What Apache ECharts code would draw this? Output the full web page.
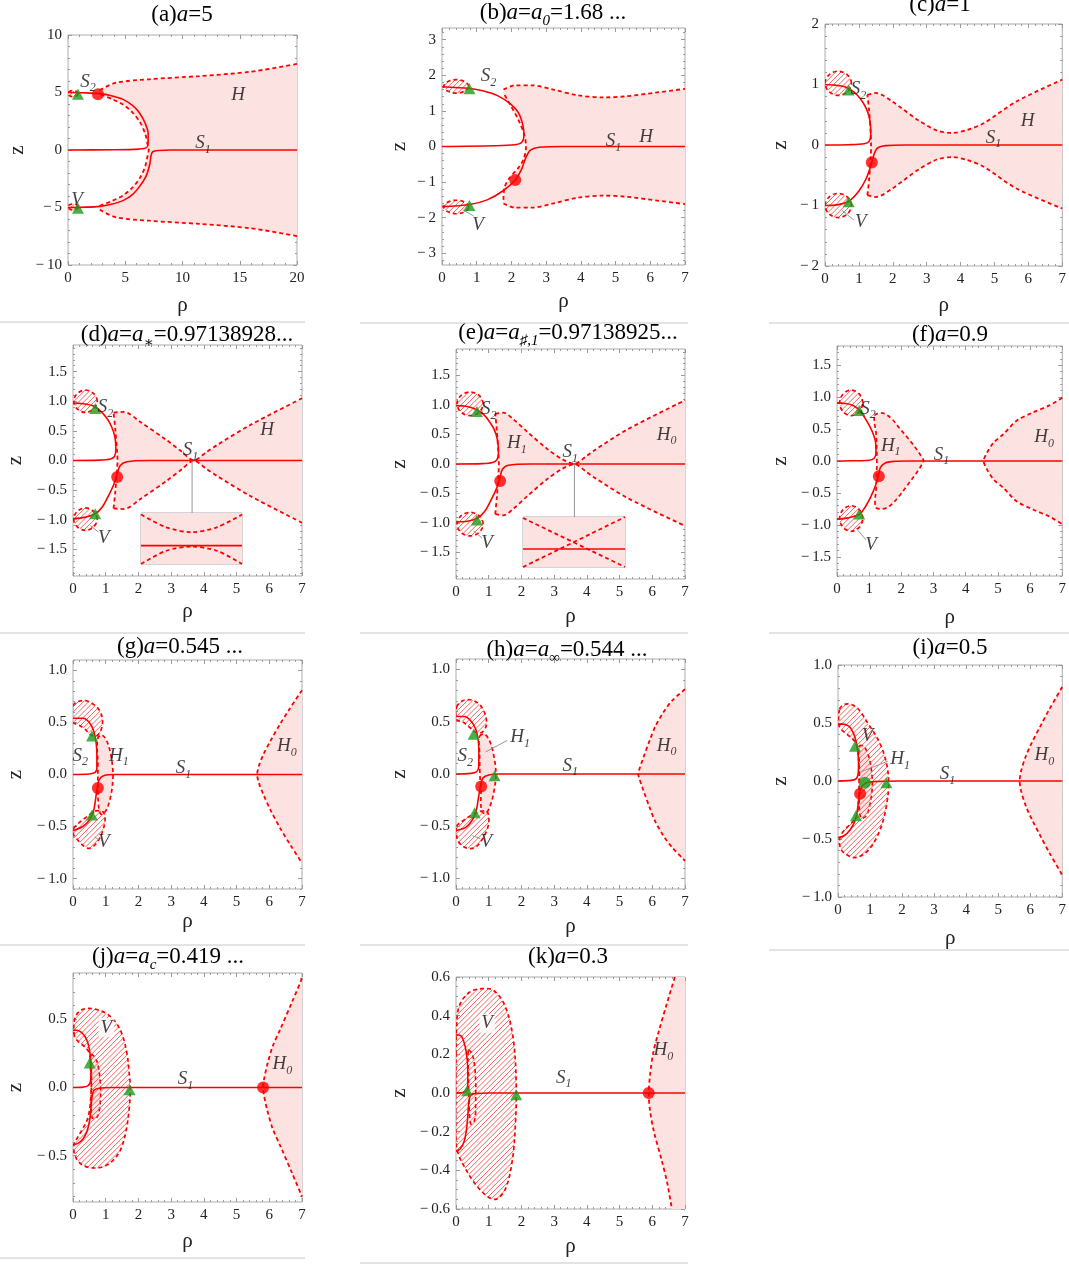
<!DOCTYPE html>
<html>
<head>
<meta charset="utf-8">
<script src="https://cdn.jsdelivr.net/npm/echarts@6/dist/echarts.min.js"></script>
<style>
html, body { margin: 0; padding: 0; background: #fff; }
#chart { width: 1069px; height: 1266px; }
</style>
</head>
<body>
<div id="chart"></div>
<script>
// ---- axes ----
const xTicks7 = [0, 1, 2, 3, 4, 5, 6, 7]
const aXTicks = [0, 5, 10, 15, 20]
const aYTicks = [-10, -5, 0, 5, 10]
const bYTicks = [-3, -2, -1, 0, 1, 2, 3]
const cYTicks = [-2, -1, 0, 1, 2]
const dYTicks = [-1.5, -1, -0.5, 0, 0.5, 1, 1.5]
const gYTicks = [-1, -0.5, 0, 0.5, 1]
const jYTicks = [-0.5, 0, 0.5]
const kYTicks = [-0.6, -0.4, -0.2, 0, 0.2, 0.4, 0.6]

// ---- (a) a=5 ----
const aUpper = [[0,0],[4,0.02],[6.2,0.08],[6.85,0.2],[7.0,0.6],[7.0,1.45],[6.75,2.3],[6.26,3.2],[5.68,3.83],[4.8,4.4],[3.78,4.72],[2.77,4.9],[1.6,4.97],[0,5]]
const aLower = [[0,-5],[1.6,-4.97],[2.77,-4.9],[3.78,-4.72],[4.8,-4.4],[5.68,-3.83],[6.3,-3.1],[6.85,-2.2],[7.15,-1.2],[7.25,-0.5],[7.4,-0.15],[7.9,-0.04],[9,0],[20,0]]
const aHTop = [[2.77,5.2],[4.2,5.85],[7.1,6.15],[11.5,6.43],[15.9,6.8],[20,7.48]]
const aHBot = [[2.77,-5.2],[4.2,-5.85],[7.1,-6.15],[11.5,-6.43],[15.9,-6.8],[20,-7.48]]
const aHLeft = [[2.77,-4.85],[3.8,-4.45],[4.8,-3.95],[5.6,-3.3],[6.3,-2.4],[6.75,-1.4],[6.95,-0.5],[7.05,0],[6.95,0.5],[6.75,1.4],[6.3,2.4],[5.6,3.3],[4.8,3.95],[3.8,4.45],[2.77,4.85]]
const aVUp = [[0.88,4.9],[0.75,5.08],[0.44,5.16],[0.13,5.08],[0,4.9],[0.13,4.72],[0.44,4.64],[0.75,4.72]]
const aVLow = [[0.88,-4.95],[0.75,-4.77],[0.44,-4.69],[0.13,-4.77],[0,-4.95],[0.13,-5.13],[0.44,-5.21],[0.75,-5.13]]
const aTri = [[0.87,4.84],[0.87,-5.07]]
const aDot = [[2.62,4.85]]
const aLabels = [[1.75,5.95,'S_2'],[14.85,4.8,'H'],[11.8,0.6,'S_1'],[0.8,-4.35,'V']]

// ---- (b) a=a0 ----
const bUpper = [[0,0],[1.5,0.02],[2.1,0.05],[2.3,0.12],[2.36,0.3],[2.33,0.6],[2.2,0.95],[1.97,1.2],[1.6,1.43],[1.2,1.56],[0.8,1.63],[0,1.68]]
const bLower = [[0,-1.69],[0.8,-1.63],[1.3,-1.5],[1.75,-1.25],[2.11,-0.94],[2.3,-0.62],[2.42,-0.3],[2.55,-0.1],[2.8,-0.02],[3.5,0],[7,0]]
const bHTop = [[1.77,1.6],[2.1,1.72],[2.6,1.72],[3.2,1.6],[3.9,1.44],[4.65,1.38],[5.3,1.41],[6.2,1.52],[7,1.62]]
const bHBot = [[1.77,-1.6],[2.1,-1.72],[2.6,-1.72],[3.2,-1.6],[3.9,-1.44],[4.65,-1.38],[5.3,-1.41],[6.2,-1.52],[7,-1.62]]
const bHLeft = [[1.77,-1.5],[1.8,-1.15],[1.95,-0.88],[2.2,-0.6],[2.36,-0.33],[2.42,0],[2.37,0.33],[2.2,0.75],[1.95,1.2],[1.77,1.5]]
const bVUp = [[0.77,1.69],[0.66,1.82],[0.41,1.88],[0.16,1.82],[0.05,1.69],[0.16,1.56],[0.41,1.5],[0.66,1.56]]
const bVLow = [[0.77,-1.7],[0.66,-1.57],[0.41,-1.51],[0.16,-1.57],[0.05,-1.7],[0.16,-1.83],[0.41,-1.89],[0.66,-1.83]]
const bTri = [[0.79,1.62],[0.79,-1.66]]
const bDot = [[2.11,-0.94]]
const bLabels = [[1.34,1.97,'S_2'],[4.94,0.15,'S_1'],[5.88,0.28,'H'],[1.04,-2.2,'V']]
const bLeaders = [[[0.91,-1.95],[0.6,-1.78]]]

// ---- (c) a=1 ----
const cUpper = [[0,0],[0.7,0.005],[1.15,0.02],[1.3,0.06],[1.35,0.2],[1.32,0.42],[1.22,0.6],[1.05,0.76],[0.85,0.88],[0.6,0.96],[0.3,0.99],[0,1]]
const cLower = [[0,-1],[0.35,-0.99],[0.7,-0.93],[1.0,-0.76],[1.22,-0.55],[1.36,-0.33],[1.45,-0.15],[1.55,-0.05],[1.8,-0.01],[2.4,0],[7,0]]
const cHTop = [[1.25,0.83],[1.5,0.86],[1.98,0.72],[2.75,0.41],[3.3,0.24],[3.75,0.2],[4.2,0.25],[4.68,0.36],[5.65,0.72],[7,1.08]]
const cHBot = [[1.25,-0.83],[1.5,-0.86],[1.98,-0.72],[2.75,-0.41],[3.3,-0.24],[3.75,-0.2],[4.2,-0.25],[4.68,-0.36],[5.65,-0.72],[7,-1.05]]
const cHLeft = [[1.25,-0.83],[1.3,-0.58],[1.35,-0.19],[1.36,0],[1.35,0.19],[1.3,0.58],[1.25,0.83]]
const cVUp = [[0.78,1.02],[0.66,1.16],[0.39,1.22],[0.12,1.16],[0,1.02],[0.12,0.88],[0.39,0.82],[0.66,0.88]]
const cVLow = [[0.78,-1.0],[0.66,-0.86],[0.39,-0.8],[0.12,-0.86],[0,-1.0],[0.12,-1.14],[0.39,-1.2],[0.66,-1.14]]
const cTri = [[0.7,0.91],[0.7,-0.94]]
const cDot = [[1.38,-0.29]]
const cLabels = [[0.99,0.92,'S_2'],[5.98,0.39,'H'],[4.97,0.12,'S_1'],[1.06,-1.27,'V']]
const cLeaders = [[[0.85,-1.24],[0.5,-1.08]]]

// ---- (d) a=a* ----
const dUpper = [[0,0],[0.8,0.006],[1.15,0.025],[1.27,0.07],[1.31,0.2],[1.28,0.4],[1.18,0.57],[1.04,0.71],[0.85,0.83],[0.63,0.92],[0.3,0.96],[0,0.97]]
const dLower = [[0,-0.98],[0.35,-0.96],[0.68,-0.9],[0.9,-0.78],[1.08,-0.6],[1.25,-0.4],[1.35,-0.22],[1.45,-0.08],[1.65,-0.02],[2.3,0],[7,0]]
const dHTop = [[1.24,0.81],[1.55,0.82],[2.06,0.65],[2.87,0.34],[3.3,0.16],[3.69,0.005],[4.1,0.15],[4.4,0.26],[5.42,0.6],[7,1.05]]
const dHBot = [[1.24,-0.81],[1.55,-0.82],[2.06,-0.65],[2.87,-0.34],[3.3,-0.16],[3.69,-0.005],[4.1,-0.15],[4.4,-0.26],[5.42,-0.6],[7,-1.05]]
const dHLeft = [[1.24,-0.81],[1.29,-0.54],[1.35,-0.14],[1.36,0],[1.35,0.14],[1.29,0.54],[1.24,0.81]]
const dVUp = [[0.74,1.0],[0.63,1.13],[0.38,1.19],[0.13,1.13],[0.02,1.0],[0.13,0.87],[0.38,0.81],[0.63,0.87]]
const dVLow = [[0.74,-0.99],[0.63,-0.86],[0.38,-0.8],[0.13,-0.86],[0.02,-0.99],[0.13,-1.12],[0.38,-1.18],[0.63,-1.12]]
const dTri = [[0.68,0.88],[0.68,-0.9]]
const dDot = [[1.35,-0.28]]
const dLabels = [[0.99,0.9,'S_2'],[5.93,0.51,'H'],[3.59,0.17,'S_1'],[0.94,-1.3,'V']]
const dLeaders = [[[0.78,-1.21],[0.53,-1.1]],[[3.64,0],[3.64,-0.886]]]
const dInsUp = [[0,0.97],[0.25,0.72],[0.5,0.625],[0.75,0.72],[1,0.97]]
const dInsLow = [[0,0],[0.25,0.26],[0.5,0.34],[0.75,0.26],[1,0]]
const dInsS1 = [[0,0.36],[1,0.36]]

// ---- (e) a=a#,1 ----
const eUpper = [[0,0],[0.8,0.006],[1.12,0.025],[1.25,0.07],[1.3,0.2],[1.27,0.4],[1.18,0.57],[1.02,0.72],[0.84,0.84],[0.6,0.93],[0.3,0.98],[0,0.99]]
const eLower = [[0,-0.98],[0.35,-0.97],[0.64,-0.92],[0.88,-0.8],[1.08,-0.6],[1.25,-0.4],[1.34,-0.24],[1.42,-0.09],[1.6,-0.02],[2.3,0],[7,0]]
const eHTop = [[1.2,0.85],[1.45,0.87],[1.75,0.76],[2.17,0.55],[2.78,0.26],[3.25,0.08],[3.62,0.005],[4.0,0.14],[4.2,0.22],[5.22,0.58],[7,1.08]]
const eHBot = [[1.2,-0.85],[1.45,-0.87],[1.75,-0.76],[2.17,-0.55],[2.78,-0.26],[3.25,-0.08],[3.62,-0.005],[4.0,-0.14],[4.2,-0.22],[5.22,-0.57],[7,-1.05]]
const eHLeft = [[1.2,-0.85],[1.25,-0.55],[1.3,-0.15],[1.31,0],[1.3,0.15],[1.25,0.55],[1.2,0.85]]
const eVUp = [[0.83,1.02],[0.71,1.16],[0.43,1.22],[0.15,1.16],[0.03,1.02],[0.15,0.88],[0.43,0.82],[0.71,0.88]]
const eVLow = [[0.83,-1.02],[0.71,-0.88],[0.43,-0.82],[0.15,-0.88],[0.03,-1.02],[0.15,-1.16],[0.43,-1.22],[0.71,-1.16]]
const eTri = [[0.64,0.89],[0.64,-0.95]]
const eDot = [[1.35,-0.29]]
const eLabels = [[1.0,0.93,'S_2'],[1.86,0.35,'H_1'],[3.49,0.2,'S_1'],[6.44,0.5,'H_0'],[0.95,-1.34,'V']]
const eLeaders = [[[0.79,-1.25],[0.54,-1.14]],[[3.62,0],[3.62,-0.899]]]
const eInsA = [[0,0.98],[1,0]]
const eInsB = [[0,0],[1,1]]
const eInsS1 = [[0,0.36],[1,0.36]]

// ---- (f) a=0.9 ----
const fUpper = [[0,0],[0.5,0.003],[1.0,0.012],[1.15,0.04],[1.21,0.12],[1.2,0.29],[1.12,0.43],[1.01,0.55],[0.86,0.68],[0.71,0.79],[0.5,0.87],[0.25,0.9],[0,0.91]]
const fLower = [[0,-0.91],[0.35,-0.89],[0.71,-0.83],[0.9,-0.7],[1.06,-0.55],[1.2,-0.38],[1.28,-0.24],[1.35,-0.1],[1.5,-0.03],[1.8,-0.005],[2.2,0],[7,0]]
const fH1 = [[1.17,0.71],[1.42,0.75],[1.7,0.66],[1.93,0.52],[2.2,0.36],[2.45,0.2],[2.62,0.07],[2.69,0],[2.62,-0.07],[2.45,-0.2],[2.2,-0.37],[1.93,-0.55],[1.65,-0.7],[1.42,-0.75],[1.2,-0.72],[1.22,-0.4],[1.24,0],[1.22,0.4]]
const fH0 = [[7,0.99],[6.6,0.87],[6.09,0.76],[5.58,0.63],[5.17,0.42],[4.87,0.29],[4.66,0.13],[4.56,0],[4.66,-0.13],[4.87,-0.29],[5.17,-0.42],[5.58,-0.63],[6.09,-0.76],[6.6,-0.87],[7,-0.99]]
const fVUp = [[0.8,0.91],[0.69,1.05],[0.44,1.11],[0.19,1.05],[0.08,0.91],[0.19,0.77],[0.44,0.71],[0.69,0.77]]
const fVLow = [[0.8,-0.9],[0.69,-0.76],[0.44,-0.7],[0.19,-0.76],[0.08,-0.9],[0.19,-1.04],[0.44,-1.1],[0.69,-1.04]]
const fTri = [[0.69,0.79],[0.69,-0.83]]
const fDot = [[1.3,-0.24]]
const fLabels = [[0.96,0.82,'S_2'],[1.67,0.24,'H_1'],[3.25,0.1,'S_1'],[6.44,0.37,'H_0'],[1.06,-1.32,'V']]
const fLeaders = [[[0.91,-1.24],[0.56,-1.03]]]

// ---- (g) a=0.545 ----
const gUpper = [[0,0],[0.5,0.005],[0.68,0.02],[0.73,0.06],[0.73,0.18],[0.71,0.3],[0.63,0.42],[0.5,0.5],[0.3,0.54],[0,0.54]]
const gLower = [[0,-0.54],[0.3,-0.5],[0.5,-0.44],[0.62,-0.36],[0.68,-0.26],[0.73,-0.15],[0.8,-0.05],[0.95,-0.01],[1.3,0],[7,0]]
const gVUp = [[0,0.66],[0.15,0.7],[0.38,0.71],[0.6,0.68],[0.8,0.62],[0.9,0.53],[0.86,0.43],[0.72,0.37],[0.55,0.38],[0.35,0.44],[0.15,0.48],[0,0.5]]
const gVLow = [[0.02,-0.52],[0.2,-0.46],[0.45,-0.4],[0.7,-0.35],[0.92,-0.36],[0.98,-0.43],[0.9,-0.55],[0.72,-0.66],[0.5,-0.71],[0.3,-0.68],[0.12,-0.62],[0.02,-0.58]]
const gH1 = [[0.75,0.34],[0.88,0.38],[1.02,0.33],[1.15,0.2],[1.22,0.03],[1.2,-0.12],[1.12,-0.25],[1.0,-0.35],[0.85,-0.38],[0.78,-0.3],[0.76,-0.1],[0.76,0.1]]
const gH0 = [[7,0.81],[6.6,0.62],[6.34,0.49],[6.05,0.33],[5.83,0.2],[5.68,0.08],[5.63,0],[5.68,-0.08],[5.83,-0.2],[6.05,-0.35],[6.34,-0.52],[6.65,-0.68],[7,-0.85]]
const gTri = [[0.58,0.37],[0.58,-0.39]]
const gDot = [[0.76,-0.13]]
const gLabels = [[0.22,0.18,'S_2'],[1.4,0.18,'H_1'],[3.38,0.06,'S_1'],[6.54,0.27,'H_0'],[0.94,-0.65,'V']]
const gLeaders = [[[0.8,-0.63],[0.66,-0.6]]]

// ---- (h) a=a_inf ----
const hUpper = [[0,0],[0.45,0.006],[0.62,0.02],[0.69,0.06],[0.7,0.2],[0.68,0.32],[0.6,0.43],[0.45,0.51],[0.25,0.55],[0,0.55]]
const hLower = [[0,-0.54],[0.3,-0.51],[0.5,-0.44],[0.62,-0.35],[0.68,-0.24],[0.74,-0.13],[0.82,-0.04],[1.0,-0.01],[1.3,0],[7,0]]
const hVUp = [[0.02,0.64],[0.2,0.7],[0.44,0.71],[0.7,0.67],[0.88,0.58],[0.93,0.47],[0.8,0.4],[0.6,0.4],[0.4,0.45],[0.2,0.5],[0.02,0.52]]
const hVLow = [[0.02,-0.5],[0.2,-0.45],[0.44,-0.4],[0.7,-0.36],[0.95,-0.36],[1.0,-0.47],[0.85,-0.6],[0.6,-0.7],[0.35,-0.71],[0.13,-0.67],[0.02,-0.6]]
const hH1 = [[0.72,0.36],[0.88,0.38],[1.05,0.3],[1.17,0.15],[1.22,0],[1.17,-0.15],[1.05,-0.3],[0.9,-0.38],[0.78,-0.35],[0.76,-0.15],[0.73,0],[0.72,0.2]]
const hH0 = [[7,0.81],[6.6,0.7],[6.34,0.59],[6.1,0.46],[5.93,0.33],[5.72,0.15],[5.6,0.04],[5.57,0],[5.6,-0.04],[5.72,-0.15],[5.93,-0.33],[6.1,-0.46],[6.34,-0.59],[6.6,-0.7],[7,-0.83]]
const hTri = [[0.54,0.38],[0.57,-0.37],[1.18,-0.016]]
const hDot = [[0.77,-0.12]]
const hLabels = [[0.28,0.17,'S_2'],[1.96,0.35,'H_1'],[3.49,0.08,'S_1'],[6.44,0.27,'H_0'],[0.93,-0.65,'V']]
const hLeaders = [[[1.56,0.32],[0.9,0.21]],[[0.75,-0.62],[0.5,-0.59]]]

// ---- (i) a=0.5 ----
const iUpper = [[0,0],[0.4,0.005],[0.55,0.015],[0.62,0.05],[0.64,0.12],[0.63,0.22],[0.58,0.32],[0.5,0.4],[0.35,0.47],[0.15,0.49],[0,0.49]]
const iLower = [[0,-0.49],[0.2,-0.47],[0.38,-0.42],[0.52,-0.35],[0.6,-0.26],[0.65,-0.15],[0.72,-0.06],[0.85,-0.02],[1.1,-0.005],[1.9,0],[7,0]]
const iV = [[0.05,0.62],[0.2,0.66],[0.41,0.66],[0.6,0.63],[0.77,0.57],[0.95,0.49],[1.12,0.42],[1.3,0.33],[1.45,0.22],[1.55,0.1],[1.58,-0.05],[1.52,-0.2],[1.4,-0.35],[1.22,-0.48],[1.0,-0.58],[0.75,-0.64],[0.5,-0.66],[0.3,-0.64],[0.12,-0.6],[0.04,-0.52],[0.15,-0.44],[0.35,-0.38],[0.55,-0.32],[0.64,-0.2],[0.66,0],[0.64,0.2],[0.55,0.33],[0.38,0.38],[0.2,0.42],[0.04,0.47]]
const iH1 = [[0.66,0.3],[0.8,0.3],[0.95,0.22],[1.05,0.08],[1.07,-0.05],[1.0,-0.2],[0.88,-0.3],[0.72,-0.32],[0.66,-0.2],[0.67,0],[0.66,0.15]]
const iH0 = [[7,0.81],[6.6,0.62],[6.33,0.48],[6.05,0.33],[5.87,0.22],[5.72,0.09],[5.67,0],[5.72,-0.09],[5.87,-0.22],[6.05,-0.33],[6.33,-0.48],[6.6,-0.62],[7,-0.81]]
const iTri = [[0.53,0.3],[0.56,-0.3],[1.51,-0.015]]
const iDot = [[0.69,-0.11]]
const iGreenDot = [[0.84,-0.015]]
const iLabels = [[0.92,0.39,'V'],[1.94,0.19,'H_1'],[3.42,0.06,'S_1'],[6.44,0.22,'H_0']]
const iLeaders = [[[1.55,0.17],[0.72,0.08]]]

// ---- (j) a=a_c ----
const jUpper = [[0,0],[0.3,0.003],[0.45,0.012],[0.53,0.04],[0.55,0.1],[0.54,0.2],[0.5,0.28],[0.42,0.35],[0.28,0.4],[0.12,0.42],[0,0.42]]
const jLower = [[0,-0.42],[0.15,-0.41],[0.3,-0.38],[0.43,-0.32],[0.51,-0.24],[0.55,-0.15],[0.58,-0.07],[0.64,-0.02],[0.8,-0.005],[1.2,0],[7,0]]
const jV = [[0.04,0.38],[0.05,0.5],[0.2,0.56],[0.43,0.58],[0.75,0.57],[1.04,0.54],[1.3,0.48],[1.5,0.39],[1.65,0.25],[1.72,0.1],[1.75,0],[1.72,-0.15],[1.62,-0.32],[1.45,-0.46],[1.2,-0.54],[0.94,-0.58],[0.6,-0.59],[0.3,-0.57],[0.1,-0.52],[0.02,-0.43],[0.18,-0.35],[0.35,-0.28],[0.48,-0.2],[0.55,-0.05],[0.56,0.1],[0.5,0.25],[0.35,0.3],[0.15,0.34]]
const jH1 = [[0.55,0.24],[0.72,0.2],[0.83,0.05],[0.83,-0.12],[0.73,-0.22],[0.58,-0.22],[0.56,0]]
const jH0 = [[7,0.8],[6.7,0.63],[6.34,0.43],[6.1,0.3],[5.93,0.16],[5.84,0.06],[5.81,0],[5.84,-0.06],[5.93,-0.16],[6.1,-0.3],[6.34,-0.43],[6.7,-0.63],[7,-0.8]]
const jTri = [[0.51,0.18],[1.73,-0.017]]
const jDot = [[5.81,0]]
const jLabels = [[1.02,0.44,'V',1],[3.44,0.06,'S_1'],[6.4,0.17,'H_0']]

// ---- (k) a=0.3 ----
const kUpper = [[0,0],[0.2,0.002],[0.32,0.01],[0.36,0.04],[0.36,0.11],[0.33,0.19],[0.28,0.24],[0.18,0.29],[0.08,0.3],[0,0.3]]
const kLower = [[0,-0.3],[0.13,-0.29],[0.25,-0.25],[0.32,-0.19],[0.36,-0.12],[0.39,-0.05],[0.45,-0.01],[0.6,-0.003],[1,0],[7,0]]
const kV = [[0,0.2],[0.02,0.35],[0.1,0.45],[0.4,0.52],[0.8,0.54],[1.15,0.53],[1.5,0.45],[1.75,0.28],[1.84,0.05],[1.82,-0.15],[1.72,-0.35],[1.5,-0.5],[1.2,-0.55],[0.85,-0.52],[0.5,-0.45],[0.25,-0.38],[0.08,-0.32],[0,-0.25]]
const kInner = [[0.38,0.22],[0.5,0.2],[0.59,0.1],[0.6,-0.05],[0.57,-0.14],[0.45,-0.16],[0.4,-0.05],[0.38,0.1]]
const kH0 = [[6.69,0.6],[6.44,0.46],[6.2,0.32],[6.03,0.21],[5.93,0.09],[5.89,0],[5.93,-0.09],[6.05,-0.2],[6.29,-0.35],[6.45,-0.46],[6.6,-0.6]]
const kTri = [[0.34,0.012],[1.84,-0.009]]
const kDot = [[5.89,0]]
const kLabels = [[0.95,0.36,'V',1],[3.29,0.08,'S_1'],[6.34,0.22,'H_0']]

// ---- titles ----
const titles = [
  [['n','(a)'],['i','a'],['n','=5']],
  [['n','(b)'],['i','a'],['n','='],['i','a'],['s','0'],['n','=1.68 ...']],
  [['n','(c)'],['i','a'],['n','=1']],
  [['n','(d)'],['i','a'],['n','='],['i','a'],['s','\u2217'],['n','=0.97138928...']],
  [['n','(e)'],['i','a'],['n','='],['i','a'],['s','\u266F,1'],['n','=0.97138925...']],
  [['n','(f)'],['i','a'],['n','=0.9']],
  [['n','(g)'],['i','a'],['n','=0.545 ...']],
  [['n','(h)'],['i','a'],['n','='],['i','a'],['s','\u221E'],['n','=0.544 ...']],
  [['n','(i)'],['i','a'],['n','=0.5']],
  [['n','(j)'],['i','a'],['n','='],['i','a'],['s','c'],['n','=0.419 ...']],
  [['n','(k)'],['i','a'],['n','=0.3']]
]

const RED = '#ff0000'
const PINK = '#fde2e2'
const GREEN = '#1a9c1a'
const FRAME = '#ababab'
const TICK = '#9a9a9a'
const GRAYLINE = '#8a8a8a'
const HATCHRED = '#f04848'
const SERIF = '"Liberation Serif", "DejaVu Serif", serif'

const rev = (a) => a.slice().reverse()
const aHFill = aHTop.concat(rev(aHBot), aHLeft)
const bHFill = bHTop.concat(rev(bHBot), bHLeft)
const cHFill = cHTop.concat(rev(cHBot), cHLeft)
const dHFill = dHTop.concat(rev(dHBot), dHLeft)
const eHFill = eHTop.concat(rev(eHBot), eHLeft)
const kH0Fill = kH0.concat([[7,-0.6],[7,0.6]])

const panels = [
  { grid: [68,35,229,230], xMax: 20, yLim: 10, xTicks: aXTicks, yTicks: aYTicks, xMinor: 1, yMinor: 1, dec: 0, zGap: 40, rGap: 30,
    solid: [aUpper, aLower], dashed: [aHTop, aHBot, aHLeft], pink: [aHFill], pinkClosed: [], hatch: [aVUp, aVLow], outline: [],
    tri: aTri, dot: aDot, gdot: [], labels: aLabels, leaders: [] },
  { grid: [442,28,243,237], xMax: 7, yLim: 3.33, xTicks: xTicks7, yTicks: bYTicks, xMinor: 0.2, yMinor: 0.2, dec: 0, zGap: 32, rGap: 26,
    solid: [bUpper, bLower], dashed: [bHTop, bHBot, bHLeft], pink: [bHFill], pinkClosed: [], hatch: [bVUp, bVLow], outline: [],
    tri: bTri, dot: bDot, gdot: [], labels: bLabels, leaders: bLeaders },
  { grid: [825,24,242,242], xMax: 7, yLim: 2, xTicks: xTicks7, yTicks: cYTicks, xMinor: 0.2, yMinor: 0.2, dec: 0, zGap: 34, rGap: 29,
    solid: [cUpper, cLower], dashed: [cHTop, cHBot, cHLeft], pink: [cHFill], pinkClosed: [], hatch: [cVUp, cVLow], outline: [],
    tri: cTri, dot: cDot, gdot: [], labels: cLabels, leaders: cLeaders },
  { grid: [73,345,229,231], xMax: 7, yLim: 1.95, xTicks: xTicks7, yTicks: dYTicks, xMinor: 0.2, yMinor: 0.1, dec: 1, zGap: 47, rGap: 25,
    solid: [dUpper, dLower], dashed: [dHTop, dHBot, dHLeft], pink: [dHFill], pinkClosed: [], hatch: [dVUp, dVLow], outline: [],
    tri: dTri, dot: dDot, gdot: [], labels: dLabels, leaders: dLeaders },
  { grid: [456,349,229,230], xMax: 7, yLim: 1.95, xTicks: xTicks7, yTicks: dYTicks, xMinor: 0.2, yMinor: 0.1, dec: 1, zGap: 46, rGap: 27,
    solid: [eUpper, eLower], dashed: [eHTop, eHBot, eHLeft], pink: [eHFill], pinkClosed: [], hatch: [eVUp, eVLow], outline: [],
    tri: eTri, dot: eDot, gdot: [], labels: eLabels, leaders: eLeaders },
  { grid: [837,346,230,230], xMax: 7, yLim: 1.8, xTicks: xTicks7, yTicks: dYTicks, xMinor: 0.2, yMinor: 0.1, dec: 1, zGap: 46, rGap: 31,
    solid: [fUpper, fLower], dashed: [fH0], pink: [fH0], pinkClosed: [fH1], hatch: [fVUp, fVLow], outline: [],
    tri: fTri, dot: fDot, gdot: [], labels: fLabels, leaders: fLeaders },
  { grid: [73,660,229,229], xMax: 7, yLim: 1.1, xTicks: xTicks7, yTicks: gYTicks, xMinor: 0.2, yMinor: 0.1, dec: 1, zGap: 47, rGap: 18,
    solid: [gUpper, gLower], dashed: [gH0], pink: [gH0], pinkClosed: [gH1], hatch: [gVUp, gVLow], outline: [],
    tri: gTri, dot: gDot, gdot: [], labels: gLabels, leaders: gLeaders },
  { grid: [456,659,229,230], xMax: 7, yLim: 1.1, xTicks: xTicks7, yTicks: gYTicks, xMinor: 0.2, yMinor: 0.1, dec: 1, zGap: 46, rGap: 27,
    solid: [hUpper, hLower], dashed: [hH0], pink: [hH0], pinkClosed: [hH1], hatch: [hVUp, hVLow], outline: [],
    tri: hTri, dot: hDot, gdot: [], labels: hLabels, leaders: hLeaders },
  { grid: [838,665,229,232], xMax: 7, yLim: 1, xTicks: xTicks7, yTicks: gYTicks, xMinor: 0.2, yMinor: 0.1, dec: 1, zGap: 47, rGap: 31,
    solid: [iUpper, iLower], dashed: [iH0], pink: [iH0], pinkClosed: [iH1], hatch: [iV], outline: [],
    tri: iTri, dot: iDot, gdot: iGreenDot, labels: iLabels, leaders: iLeaders },
  { grid: [73,973,229,229], xMax: 7, yLim: 0.84, xTicks: xTicks7, yTicks: jYTicks, xMinor: 0.2, yMinor: 0.1, dec: 1, zGap: 47, rGap: 29,
    solid: [jUpper, jLower], dashed: [jH0], pink: [jH0], pinkClosed: [jH1], hatch: [jV], outline: [],
    tri: jTri, dot: jDot, gdot: [], labels: jLabels, leaders: [] },
  { grid: [456,977,229,232], xMax: 7, yLim: 0.6, xTicks: xTicks7, yTicks: kYTicks, xMinor: 0.2, yMinor: 0.05, dec: 1, zGap: 46, rGap: 27,
    solid: [kUpper, kLower], dashed: [kH0], pink: [kH0Fill], pinkClosed: [], hatch: [kV], outline: [kInner],
    tri: kTri, dot: kDot, gdot: [], labels: kLabels, leaders: [] }
]

const titlePos = [[182,15],[553,13],[940,5],[187,335],[568,333],[950,335],[180,647],[567,650],[950,648],[168,957],[568,957]]
const sepLines = [[0,305,322],[360,688,323],[769,1069,323],[0,305,633],[360,688,633],[769,1069,633],[0,305,945],[360,688,945],[769,1069,950],[0,305,1258],[360,688,1263]]

const RICH_LBL = richStyles(19)
const RICH_TTL = richStyles(23)

function richStyles(sz) {
  const sub = Math.round(sz * 0.64)
  return {
    n: { fontFamily: SERIF, fontSize: sz, color: '#111', lineHeight: sz, verticalAlign: 'top' },
    i: { fontFamily: SERIF, fontStyle: 'italic', fontSize: sz, color: '#111', lineHeight: sz, verticalAlign: 'top' },
    s: { fontFamily: SERIF, fontStyle: 'italic', fontSize: sub, color: '#111', lineHeight: sub, padding: [Math.round(sz * 0.5), 0, 0, 0], verticalAlign: 'top' }
  }
}

function toRich(t) {
  const parts = t.split('_')
  return '{i|' + parts[0] + '}' + (parts[1] ? '{s|' + parts[1] + '}' : '')
}

// Mathematica style minus sign, a little wider
function fmt(v, dec) {
  return v.toFixed(dec).replace('-', '\u2212\u2009')
}

function steps(lo, hi, st) {
  const out = []
  for (let k = Math.ceil(lo / st - 1e-9); k * st <= hi + 1e-9; k++) out.push(+(k * st).toFixed(4))
  return out
}

const grids = []
const xAxes = []
const yAxes = []
const series = []

function tick(vals, len) {
  return { show: true, inside: true, length: len, customValues: vals, lineStyle: { color: TICK, width: 1 } }
}

function buildAxes(p, gi) {
  const base = { gridIndex: gi, type: 'value', splitLine: { show: false }, axisLine: { show: false, onZero: false }, silent: true }
  const xm = steps(0, p.xMax, p.xMinor)
  const ym = steps(-p.yLim, p.yLim, p.yMinor)
  const lbl = { fontFamily: SERIF, fontSize: 15, color: '#222', margin: 6 }
  const nameStyle = { fontFamily: SERIF, fontSize: 21, color: '#222' }
  const xb = Object.assign({}, base, { min: 0, max: p.xMax })
  const yb = Object.assign({}, base, { min: -p.yLim, max: p.yLim })
  xAxes.push(Object.assign({}, xb, { position: 'bottom', axisTick: tick(p.xTicks, 4),
    axisLabel: Object.assign({ customValues: p.xTicks, formatter: (v) => fmt(v, 0) }, lbl),
    name: '\u03C1', nameLocation: 'middle', nameGap: p.rGap, nameTextStyle: nameStyle }))
  xAxes.push(Object.assign({}, xb, { position: 'bottom', axisTick: tick(xm, 2), axisLabel: { show: false } }))
  xAxes.push(Object.assign({}, xb, { position: 'top', axisTick: tick(p.xTicks, 4), axisLabel: { show: false } }))
  xAxes.push(Object.assign({}, xb, { position: 'top', axisTick: tick(xm, 2), axisLabel: { show: false } }))
  yAxes.push(Object.assign({}, yb, { position: 'left', axisTick: tick(p.yTicks, 4),
    axisLabel: Object.assign({ customValues: p.yTicks, formatter: (v) => fmt(v, p.dec) }, lbl),
    name: 'z', nameLocation: 'middle', nameGap: p.zGap, nameTextStyle: nameStyle }))
  yAxes.push(Object.assign({}, yb, { position: 'left', axisTick: tick(ym, 2), axisLabel: { show: false } }))
  yAxes.push(Object.assign({}, yb, { position: 'right', axisTick: tick(p.yTicks, 4), axisLabel: { show: false } }))
  yAxes.push(Object.assign({}, yb, { position: 'right', axisTick: tick(ym, 2), axisLabel: { show: false } }))
}

function fillSeries(ax, pts, color) {
  return {
    type: 'custom', xAxisIndex: ax, yAxisIndex: ax, data: pts, z: 1, silent: true, animation: false, clip: true,
    renderItem: (params, api) => {
      if (params.dataIndex !== 0) return null
      return { type: 'polygon', shape: { points: pts.map((p) => api.coord(p)) }, style: { fill: color } }
    }
  }
}

// closed dashed region; hatched regions get diagonal lines clipped to the outline
function closedSeries(ax, pts, fill, z, hatched) {
  return {
    type: 'custom', xAxisIndex: ax, yAxisIndex: ax, data: pts, z: z, silent: true, animation: false, clip: true,
    renderItem: (params, api) => {
      if (params.dataIndex !== 0) return null
      const px = pts.map((p) => api.coord(p))
      const children = []
      if (hatched) {
        let x0 = Infinity, x1 = -Infinity, y0 = Infinity, y1 = -Infinity
        px.forEach((q) => { x0 = Math.min(x0, q[0]); x1 = Math.max(x1, q[0]); y0 = Math.min(y0, q[1]); y1 = Math.max(y1, q[1]) })
        const lines = []
        const h = y1 - y0
        for (let s = x0 - h - 6; s < x1 + 6; s += 5.2) {
          lines.push({ type: 'line', shape: { x1: s, y1: y1 + 2, x2: s + h + 4, y2: y0 - 2 },
            style: { stroke: HATCHRED, lineWidth: 0.85 } })
        }
        children.push({ type: 'group', children: lines,
          clipPath: { type: 'polygon', shape: { points: px, smooth: 0.35 } } })
      }
      children.push({
        type: 'polygon',
        shape: { points: px, smooth: 0.35 },
        style: { fill: fill, stroke: RED, lineWidth: 1.7, lineDash: [4, 3] }
      })
      return { type: 'group', children: children }
    }
  }
}

function lineSeries(ax, data, style, z, smooth) {
  return { type: 'line', xAxisIndex: ax, yAxisIndex: ax, data: data, showSymbol: false, symbol: 'none',
    smooth: smooth, lineStyle: style, z: z, silent: true, animation: false }
}

function markerSeries(ax, data, symbol, size, color) {
  return { type: 'scatter', xAxisIndex: ax, yAxisIndex: ax, data: data, symbol: symbol, symbolSize: size,
    itemStyle: { color: color }, z: 5, silent: true, animation: false }
}

panels.forEach((p, gi) => {
  const ax = gi * 4
  grids.push({ left: p.grid[0], top: p.grid[1], width: p.grid[2], height: p.grid[3], show: true,
    borderColor: FRAME, borderWidth: 1, backgroundColor: 'transparent' })
  buildAxes(p, gi)
  p.pink.forEach((pts) => series.push(fillSeries(ax, pts, PINK)))
  p.pinkClosed.forEach((pts) => series.push(closedSeries(ax, pts, PINK, 2, false)))
  p.hatch.forEach((pts) => series.push(closedSeries(ax, pts, 'none', 3, true)))
  p.outline.forEach((pts) => series.push(closedSeries(ax, pts, 'none', 3, false)))
  p.dashed.forEach((d) => series.push(lineSeries(ax, d, { color: RED, width: 1.8, type: [4, 3] }, 3, 0.3)))
  p.solid.forEach((d) => series.push(lineSeries(ax, d, { color: RED, width: 1.6 }, 4, 0.3)))
  p.leaders.forEach((d) => series.push(lineSeries(ax, d, { color: GRAYLINE, width: 0.9 }, 4, false)))
  if (p.tri.length) series.push(markerSeries(ax, p.tri, 'triangle', [12, 11], GREEN))
  if (p.dot.length) series.push(markerSeries(ax, p.dot, 'circle', 12, RED))
  if (p.gdot.length) series.push(markerSeries(ax, p.gdot, 'circle', 12, GREEN))
  series.push({
    type: 'scatter', xAxisIndex: ax, yAxisIndex: ax, symbolSize: 1, itemStyle: { color: 'transparent' },
    z: 6, silent: true, animation: false,
    data: p.labels.map((l) => ({ value: [l[0], l[1]], name: l[2],
      label: l[3] ? { backgroundColor: '#fff', padding: [0, 2, 0, 2] } : {} })),
    label: { show: true, position: 'inside', formatter: (q) => toRich(q.name), rich: RICH_LBL }
  })
})

// insets of (d) and (e)
const insetRects = [[141,513,101,51],[523,517,102,50]]
const insetBox = [[0,0],[1,0],[1,1],[0,1]]
const insetCurves = [[dInsUp, dInsLow, dInsS1], [eInsA, eInsB, eInsS1]]
insetRects.forEach((r, k) => {
  const gi = panels.length + k
  const ax = panels.length * 4 + k
  grids.push({ left: r[0], top: r[1], width: r[2], height: r[3], show: true, borderColor: FRAME, borderWidth: 1, backgroundColor: 'transparent' })
  xAxes.push({ gridIndex: gi, type: 'value', min: 0, max: 1, show: false })
  yAxes.push({ gridIndex: gi, type: 'value', min: 0, max: 1, show: false })
  series.push(fillSeries(ax, insetBox, PINK))
  const c = insetCurves[k]
  series.push(lineSeries(ax, c[0], { color: RED, width: 1.8, type: [4, 3] }, 3, 0.3))
  series.push(lineSeries(ax, c[1], { color: RED, width: 1.8, type: [4, 3] }, 3, 0.3))
  series.push(lineSeries(ax, c[2], { color: RED, width: 1.6 }, 4, false))
})

const graphics = []
titles.forEach((t, k) => {
  graphics.push({
    type: 'text', x: titlePos[k][0], y: titlePos[k][1], silent: true,
    style: { text: t.map((s) => '{' + s[0] + '|' + s[1] + '}').join(''), rich: RICH_TTL, align: 'center', verticalAlign: 'middle' }
  })
})
sepLines.forEach((s) => {
  graphics.push({ type: 'line', silent: true, shape: { x1: s[0], y1: s[2], x2: s[1], y2: s[2] }, style: { stroke: '#c8c8c8', lineWidth: 1 } })
})

const chart = echarts.init(document.getElementById('chart'), null, { renderer: 'canvas' })
chart.setOption({
  backgroundColor: '#fff',
  animation: false,
  grid: grids,
  xAxis: xAxes,
  yAxis: yAxes,
  series: series,
  graphic: graphics
})
</script>
</body>
</html>
